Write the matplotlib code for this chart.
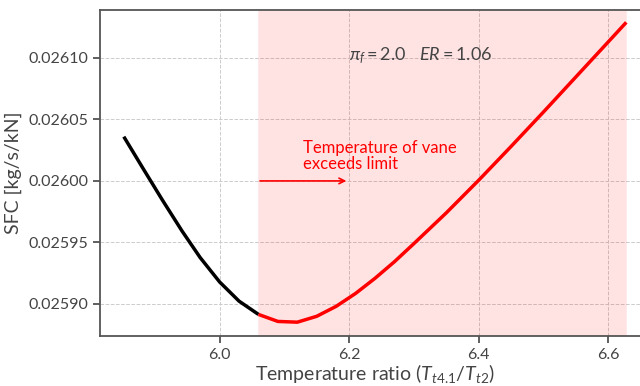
import numpy as np
import matplotlib
matplotlib.use("Agg")
import matplotlib.pyplot as plt

# SFC vs turbine inlet temperature ratio
tr_ratio = [5.852, 5.882, 5.912, 5.942, 5.970, 6.000, 6.030, 6.060,
            6.090, 6.120, 6.150, 6.180, 6.210, 6.240, 6.270, 6.300,
            6.350, 6.400, 6.450, 6.500, 6.550, 6.600, 6.628]
sfc = [0.0260360, 0.0260099, 0.0259841, 0.0259592, 0.0259376, 0.0259178,
       0.0259022, 0.0258914, 0.0258857, 0.0258851, 0.0258899, 0.0258980,
       0.0259085, 0.0259208, 0.0259343, 0.0259490, 0.0259740, 0.0260005,
       0.0260280, 0.0260560, 0.0260845, 0.0261130, 0.0261290]
limit_ratio = 6.06   # vane temperature limit
shade_end = 6.628

plt.rcParams['font.family'] = ['Lato', 'DejaVu Sans']
plt.rcParams['mathtext.fontset'] = 'custom'
plt.rcParams['mathtext.rm'] = 'Lato'
plt.rcParams['mathtext.it'] = 'Lato:italic'
grey = '#444444'

fig = plt.figure(figsize=(6.4, 3.86), dpi=100)
ax = fig.add_axes([0.156, 0.13, 0.86, 0.844])

x = np.array(tr_ratio)
y = np.array(sfc)
ax.plot(x[x <= limit_ratio], y[x <= limit_ratio], color='black', lw=2.5, zorder=3,
        solid_joinstyle='round', solid_capstyle='butt')
ax.plot(x[x >= limit_ratio], y[x >= limit_ratio], color='red', lw=2.5, zorder=3,
        solid_joinstyle='round', solid_capstyle='butt')

ax.axvspan(limit_ratio, shade_end, facecolor='red', alpha=0.11, edgecolor='#ffb0b8', lw=0.8, zorder=1)

ax.annotate('', xy=(6.2, 0.0260), xytext=(6.058, 0.0260),
            arrowprops=dict(arrowstyle='->', color='red', lw=1.2))
ax.text(6.128, 0.026007, 'Temperature of vane\nexceeds limit', color='red', fontsize=12,
        ha='left', va='bottom', linespacing=1.05)
ax.text(6.2, 0.026102, r'$\pi_f = 2.0\quad ER = 1.06$', color=grey, fontsize=13,
        ha='left', va='center')

ax.set_xlim(5.815, 6.665)
ax.set_ylim(0.025874, 0.026139)
ax.set_xticks([6.0, 6.2, 6.4, 6.6])
ax.set_yticks([0.02590, 0.02595, 0.02600, 0.02605, 0.02610])
ax.yaxis.set_major_formatter(matplotlib.ticker.FormatStrFormatter('%.5f'))
ax.grid(True, ls='--', color='#cccccc', lw=0.7, zorder=0)
ax.set_axisbelow(True)

for side in ['left', 'bottom', 'top']:
    ax.spines[side].set_color('#555555')
    ax.spines[side].set_linewidth(1.3)
ax.spines['right'].set_visible(False)
ax.tick_params(colors=grey, labelsize=11.5, length=5, width=1.2)

ax.set_xlabel(r'Temperature ratio ($T_{t4.1}/T_{t2}$)', fontsize=14, color=grey, labelpad=0)
ax.set_ylabel('SFC [kg/s/kN]', fontsize=14, color=grey)
ax.yaxis.set_label_coords(-0.142, 0.5)

fig.savefig('out.png', dpi=100)
